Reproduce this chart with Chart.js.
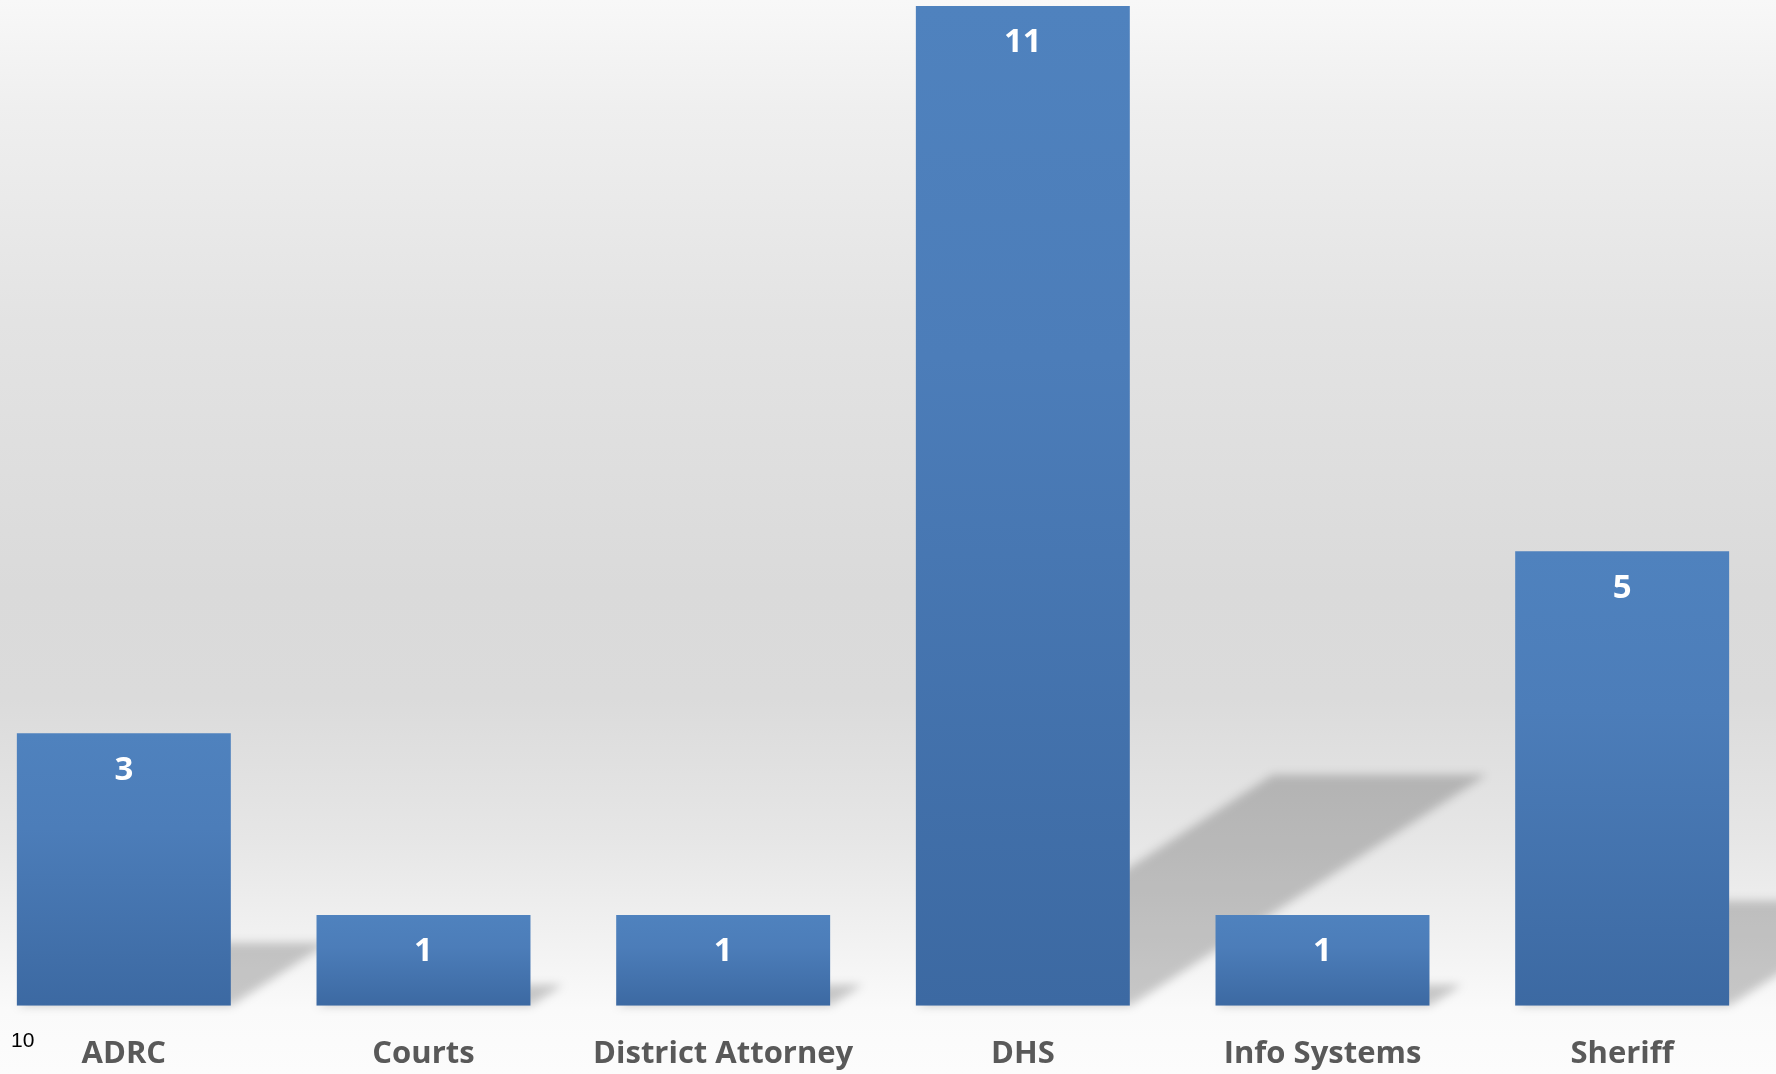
<!DOCTYPE html>
<html>
<head>
<meta charset="utf-8">
<script src="https://cdn.jsdelivr.net/npm/chart.js@4.4.1/dist/chart.umd.min.js"></script>
<style>
    html, body {
        margin: 0;
        padding: 0;
        width: 1776px;
        height: 1074px;
        overflow: hidden;
        background: linear-gradient(to bottom, #f8f8f8 0%, #efefef 10%, #e3e3e3 30%, #dadada 55%, #dbdbdb 65%, #e6e6e6 78%, #f2f2f2 88%, #fafafa 94%, #fcfcfc 100%);
        position: relative;
    }
    .chart-wrap {
        position: absolute;
        left: -26px;
        top: 0;
        width: 1802px;
        height: 1106px;
    }
    .page-num {
        position: absolute;
        left: 11px;
        top: 1029px;
        font-family: "Liberation Sans", Arial, sans-serif;
        font-size: 21px;
        line-height: 21px;
        color: #000;
    }
</style>
</head>
<body>
<div class="chart-wrap"><canvas id="barChart"></canvas></div>
<div class="page-num">10</div>

<script>
// chart data
const categories = ["ADRC", "Courts", "District Attorney", "DHS", "Info Systems", "Sheriff"];
const counts = [3, 1, 1, 11, 1, 5];
const yMax = 11;

// grey skewed shadow behind each bar
const barShadows = {
    id: 'barShadows',
    beforeDatasetsDraw(chart) {
        const ctx = chart.ctx;
        const meta = chart.getDatasetMeta(0);
        ctx.save();
        ctx.filter = 'blur(5px)';
        ctx.fillStyle = 'rgba(0,0,0,0.2)';
        meta.data.forEach(function (bar) {
            const h = bar.base - bar.y;
            const sh = h * 0.231;
            const shift = sh * 1.545;
            const left = bar.x - bar.width / 2;
            const right = bar.x + bar.width / 2;
            ctx.beginPath();
            ctx.moveTo(left, bar.base);
            ctx.lineTo(right, bar.base);
            ctx.lineTo(right + shift, bar.base - sh);
            ctx.lineTo(left + shift, bar.base - sh);
            ctx.closePath();
            ctx.fill();
        });
        ctx.restore();
    }
};

// white value inside top of bar
const valueLabels = {
    id: 'valueLabels',
    afterDatasetsDraw(chart) {
        const ctx = chart.ctx;
        const meta = chart.getDatasetMeta(0);
        ctx.save();
        ctx.font = 'bold 33px "Open Sans", sans-serif';
        ctx.fillStyle = '#ffffff';
        ctx.textAlign = 'center';
        ctx.textBaseline = 'middle';
        meta.data.forEach(function (bar, i) {
            ctx.fillText(counts[i], bar.x, bar.y + 37);
        });
        ctx.restore();
    }
};

function barGradient(context) {
    const chart = context.chart;
    if (!chart.chartArea || context.parsed === undefined) {
        return '#4a7ab5';
    }
    const y = chart.scales.y;
    const top = y.getPixelForValue(context.parsed.y);
    const base = y.getPixelForValue(0);
    const g = chart.ctx.createLinearGradient(0, top, 0, base);
    g.addColorStop(0, '#4f82be');
    g.addColorStop(0.35, '#4c7db9');
    g.addColorStop(1, '#3c69a2');
    return g;
}

new Chart(document.getElementById('barChart'), {
    type: 'bar',
    data: {
        labels: categories,
        datasets: [{
            data: counts,
            backgroundColor: barGradient,
            borderWidth: 0,
            categoryPercentage: 1,
            barPercentage: 0.714
        }]
    },
    options: {
        responsive: true,
        maintainAspectRatio: false,
        animation: false,
        layout: {
            padding: { top: 6, right: 4, bottom: 3, left: 0 }
        },
        plugins: {
            legend: { display: false },
            tooltip: { enabled: false }
        },
        scales: {
            x: {
                grid: { display: false, drawTicks: false },
                border: { display: false },
                ticks: {
                    padding: 30,
                    color: '#595959',
                    font: { family: '"Open Sans", sans-serif', size: 31, weight: 'bold' }
                }
            },
            y: {
                display: false,
                min: 0,
                max: yMax
            }
        }
    },
    plugins: [barShadows, valueLabels]
});
</script>
</body>
</html>
